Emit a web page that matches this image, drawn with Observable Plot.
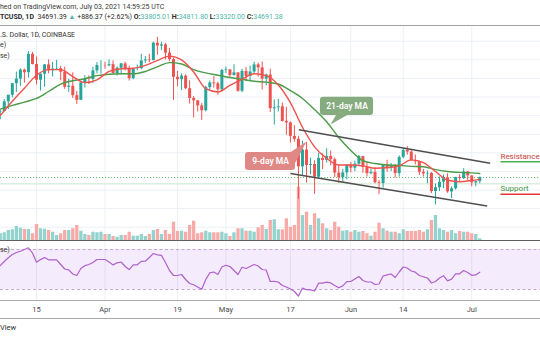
<!DOCTYPE html>
<html>
<head>
<meta charset="utf-8">
<script src="https://cdn.jsdelivr.net/npm/d3@7"></script>
<script src="https://cdn.jsdelivr.net/npm/@observablehq/plot@0.6"></script>
<style>
  html, body { margin: 0; padding: 0; background: #fff; }
  #chart { position: relative; width: 540px; height: 340px; overflow: hidden; background: #fff; font-family: Roboto, sans-serif; }
  .txt { position: absolute; left: 0; white-space: nowrap; font-family: Roboto, sans-serif; line-height: 1; }
  .sep { position: absolute; left: 0; width: 540px; height: 0; }
</style>
</head>
<body>
<div id="chart"></div>
<script>
// ---------- texts ----------
const publishedText = "hed on TradingView.com, July 03, 2021 14:59:25 UTC";
const symbolText = "TCUSD, 1D";
const lastText = "34691.39";
const changeText = "+886.37 (+2.62%)";
const ohlcKeys = ["O", "H", "L", "C"];
const ohlcTexts = ["33805.01", "34811.80", "33320.00", "34691.38"];
const legendTexts = [".S. Dollar, 1D, COINBASE", "e)", "se)"];
const rsiLegendText = "se)";
const footerText = "View";

// ---------- axis ----------
const tickDates = ["2021-03-15", "2021-04-01", "2021-04-19", "2021-05-01", "2021-05-17", "2021-06-01", "2021-06-14", "2021-07-01"];
const tickLabels = ["15", "Apr", "19", "May", "17", "Jun", "14", "Jul"];
const priceGrid = [24000, 28000, 32000, 36000, 40000, 44000, 48000, 52000, 56000, 60000, 64000];

// ---------- daily candles, 2021-03-06 .. 2021-07-03 ----------
const opens = [
  48760, 48880, 50970, 52390, 54880, 55860, 57790, 57230, 61190, 59000,
  55620, 56920, 58920, 57640, 58030, 58100, 57350, 54100, 54340, 52300,
  51300, 55040, 55860, 55780, 57620, 58790, 58800, 58740, 58970, 57060,
  58200, 59130, 58020, 55950, 58080, 58100, 59770, 59980, 59840, 63580,
  62970, 63230, 61450, 60060, 56250, 55730, 56500, 53800, 51700, 51190,
  50100, 49060, 54030, 55040, 54850, 53560, 57720, 57830, 56630, 57200,
  53240, 57510, 56430, 57380, 58920, 58280, 55860, 56750, 49500, 49700,
  49900, 46760, 46450, 43540, 42910, 37000, 40600, 37300, 37500, 34770,
  38800, 38350, 39240, 38530, 35660, 34650, 35680, 37330, 36700, 37560,
  39190, 36850, 35520, 35800, 33560, 33400, 37390, 36690, 37340, 35550,
  39020, 40530, 40160, 38340, 38090, 35820, 35480, 35600, 31680, 32500,
  33690, 34660, 31590, 32270, 34700, 34490, 35910, 35040, 33540, 33805
];
const highs = [
  49200, 51450, 52400, 54900, 57380, 58100, 58000, 61780, 61600, 60600,
  56950, 58980, 60000, 59450, 59900, 58600, 58400, 55850, 57200, 53200,
  55100, 56600, 56550, 58400, 59400, 59800, 59500, 60000, 59800, 58500,
  59250, 59500, 58650, 58150, 58900, 61200, 60700, 61200, 63800, 64850,
  63800, 63550, 62500, 60400, 57500, 57000, 56800, 55500, 52100, 51200,
  50600, 54350, 55450, 56400, 55200, 57950, 58450, 57950, 58950, 57200,
  57950, 58350, 58650, 59500, 59300, 59550, 56900, 58000, 51400, 51500,
  50700, 49800, 46650, 45850, 43550, 42500, 42200, 38850, 38300, 39900,
  39800, 40850, 40400, 38900, 37300, 36450, 37500, 37900, 38250, 39450,
  39250, 37900, 36450, 36800, 34050, 37500, 38400, 37700, 37450, 39350,
  41000, 41350, 40500, 39550, 38200, 36450, 36100, 35750, 33300, 34800,
  35250, 35500, 32700, 34750, 35300, 36600, 36000, 35050, 33950, 34812
];
const lows = [
  47100, 48800, 49300, 51850, 53000, 54300, 55000, 56100, 58900, 54600,
  53300, 54100, 57000, 56300, 57850, 55500, 53650, 53000, 51700, 50400,
  51300, 53950, 54700, 54900, 57000, 56900, 57950, 58500, 56900, 56500,
  56800, 57600, 55450, 55750, 57650, 57900, 59200, 59400, 59800, 61000,
  62000, 60000, 59600, 51300, 54200, 53400, 53600, 50500, 47500, 48800,
  47000, 48800, 53250, 53900, 52400, 53100, 57050, 56050, 56500, 53050,
  52950, 55300, 55300, 56950, 56300, 53500, 54400, 48700, 46000, 48800,
  46650, 43800, 42100, 42300, 30000, 35000, 33500, 35300, 31100, 34400,
  36400, 37800, 37200, 34700, 33400, 33500, 34200, 35700, 35950, 37200,
  35600, 34800, 35300, 33350, 31000, 32400, 35800, 35950, 34600, 34800,
  38750, 39500, 38150, 37400, 35150, 34800, 33350, 31250, 28800, 31700,
  32300, 31300, 30150, 32000, 33900, 34250, 34000, 32700, 32700, 33320
];
const closes = [
  48880, 50970, 52390, 54880, 55860, 57790, 57230, 61190, 59000, 55620,
  56920, 58920, 57640, 58030, 58100, 57350, 54100, 54340, 52300, 51300,
  55040, 55860, 55780, 57620, 58790, 58800, 58740, 58970, 57060, 58200,
  59130, 58020, 55950, 58080, 58100, 59770, 59980, 59840, 63580, 62970,
  63230, 61450, 60060, 56250, 55730, 56500, 53800, 51700, 51190, 50100,
  49060, 54030, 55040, 54850, 53560, 57720, 57830, 56630, 57200, 53240,
  57510, 56430, 57380, 58920, 58280, 55860, 56750, 49500, 49700, 49900,
  46760, 46450, 43540, 42910, 37000, 40600, 37300, 37500, 34770, 38800,
  38350, 39240, 38530, 35660, 34650, 35680, 37330, 36700, 37560, 39190,
  36850, 35520, 35800, 33560, 33400, 37390, 36690, 37340, 35550, 39020,
  40530, 40160, 38340, 38090, 35820, 35480, 35600, 31680, 32500, 33690,
  34660, 31590, 32270, 34700, 34490, 35910, 35040, 33540, 33805, 34691
];
// volume, thousand BTC
const volumes = [
  13.4, 15.4, 20, 21.4, 28, 24.6, 22, 22, 13.4, 32,
  23.4, 22.6, 20, 16.6, 10, 13.4, 20, 20, 23.4, 30,
  18.6, 12, 10, 16.6, 15.4, 16.6, 12, 12, 8, 6.6,
  10, 10, 16.6, 8.6, 8.6, 12, 8, 12, 20, 22,
  12, 20, 12, 36.6, 18, 18.6, 16.6, 30, 38.6, 13.4,
  15.4, 18.6, 15.4, 15.4, 15.4, 16.6, 13.4, 8, 15.4, 23.4,
  23.4, 18.6, 18.6, 16.6, 25.4, 30, 22, 40, 41.4, 21.4,
  21.4, 43.4, 26.6, 30, 106.6, 50, 56.6, 30, 53.4, 43.4,
  33.4, 23.4, 20, 36.6, 26.6, 18.6, 20, 16.6, 20, 16.6,
  18, 13.4, 8.6, 16.6, 34.6, 23.4, 18.6, 16.6, 16.6, 13.4,
  21.4, 18, 18, 18, 20, 16.6, 21.4, 40, 50, 23.4,
  20, 16.6, 20, 13.4, 18, 16.6, 16.6, 13.4, 12, 3.4
];
// RSI (14)
const rsiValues = [
  54, 58, 61.7, 65, 67, 68.3, 70, 71.7, 66.5, 57.3,
  59.9, 62, 59.7, 59.7, 59.7, 55, 50.5, 49.7, 45.5, 44,
  51, 53.8, 55, 57, 60, 60, 60, 57.5, 54.6, 56.7,
  57.5, 53, 49.9, 54.7, 54.7, 58.1, 58.3, 62, 66, 64.6,
  64.1, 57, 49, 44, 44, 45, 40, 36, 34.7, 32.5,
  30.2, 40, 46.6, 47.5, 45, 52.5, 54.2, 53, 49, 45,
  52.3, 51, 53, 55, 53.5, 50, 49.5, 38, 38.2, 37.5,
  34, 32.5, 30.5, 28, 23.5, 31.5, 29.8, 29.6, 28.5, 36.3,
  36.3, 37.3, 36.6, 34, 31.7, 33.6, 37.8, 38, 40.5, 43,
  39, 37.5, 37.5, 35, 35.5, 43.5, 44.7, 45.5, 42, 47.5,
  52.5, 51.5, 48.5, 47.3, 44, 42.7, 41.5, 36.5, 38, 41.5,
  43.8, 38.6, 40.4, 45.7, 45.7, 49, 47, 44.2, 44.6, 47.3
];
const rsiBand = [30, 70];

// ---------- moving averages ----------
const maDates = [
  "2021-03-06", "2021-03-09", "2021-03-12", "2021-03-15", "2021-03-18", "2021-03-21", "2021-03-24", "2021-03-27", "2021-03-30", "2021-04-02",
  "2021-04-05", "2021-04-08", "2021-04-11", "2021-04-14", "2021-04-17", "2021-04-20", "2021-04-23", "2021-04-26", "2021-04-29", "2021-05-02",
  "2021-05-05", "2021-05-08", "2021-05-11", "2021-05-14", "2021-05-17", "2021-05-20", "2021-05-23", "2021-05-26", "2021-05-29", "2021-06-01",
  "2021-06-04", "2021-06-07", "2021-06-10", "2021-06-13", "2021-06-16", "2021-06-19", "2021-06-22", "2021-06-25", "2021-06-28", "2021-07-01",
  "2021-07-03"
];
const ma9 = [
  48000, 51100, 53900, 56700, 57900, 57900, 56400, 55100, 55700, 57500,
  58100, 58200, 58800, 59900, 60800, 60000, 57400, 53800, 53100, 54500,
  55800, 57000, 56600, 54600, 50800, 45500, 41300, 38800, 37400, 37400,
  37200, 36700, 36800, 37200, 38500, 37900, 36000, 34100, 33800, 34050,
  34300
];
const ma21 = [
  49400, 50200, 50900, 51700, 53200, 54800, 55500, 55950, 56600, 56900,
  57000, 57000, 57500, 58500, 59400, 59100, 57900, 57200, 56700, 56200,
  55800, 55400, 55200, 54800, 53400, 51700, 49300, 46700, 43300, 40500,
  38300, 37700, 37400, 37300, 37100, 37000, 36400, 36000, 35800, 35700,
  35550
];

// ---------- drawings ----------
const lastPrice = 34691.38;
const levelPrice = 33330;
const channelLines = [
  {x1: "2021-05-19T02:00Z", y1: 44950, x2: "2021-07-05T14:00Z", y2: 37770},
  {x1: "2021-05-17T00:45Z", y1: 35550, x2: "2021-07-04T20:00Z", y2: 28560}
];
const callouts = [
  {label: "21-day MA", x1: "2021-05-24T11:00Z", x2: "2021-06-06T15:00Z", y1: 48020, y2: 51960,
   tx: "2021-05-31T01:00Z", ty: 49990, color: "#86ab7f",
   tail: [["2021-05-28T10:30Z", 48300], ["2021-05-26T23:00Z", 46090], ["2021-05-31T10:00Z", 48300]]},
  {label: "9-day MA", x1: "2021-05-05T20:40Z", x2: "2021-05-18T06:30Z", y1: 36200, y2: 40070,
   tx: "2021-05-12T01:40Z", ty: 38130, color: "#e08886",
   tail: [["2021-05-16T12:40Z", 39850], ["2021-05-21T00:00Z", 42430], ["2021-05-18T06:30Z", 37920]]}
];
const srLabels = [
  {label: "Resistance", x1: "2021-07-08T03:00Z", x2: "2021-07-18T01:30Z", textPrice: 39210, linePrice: 38070, textColor: "#c8433d", lineColor: "#4caf50"},
  {label: "Support", x1: "2021-07-08T03:00Z", x2: "2021-07-18T01:30Z", textPrice: 32430, linePrice: 31100, textColor: "#3f9142", lineColor: "#e53935"}
];

// ---------- build ----------
const chart = document.getElementById("chart");
const C = {up: "#26a69a", down: "#ef5350", upVol: "#93d3cd", downVol: "#f8aaa8", grid: "#ecf0f5",
           ma9: "#f0524d", ma21: "#4b9b47", channel: "#4f4f4f", rsi: "#b061cb"};
const xDomain = [new Date("2021-03-06T01:36Z"), new Date("2021-07-18T01:30Z")];
const yPrice = [21150, 67390];
const yVolume = [0, 430];
const yRsi = [19, 79];

const dates = d3.utcDay.range(new Date("2021-03-06T00:00Z"), new Date("2021-07-04T00:00Z"));
const rows = dates.map((date, i) => ({date, open: opens[i], high: highs[i], low: lows[i], close: closes[i],
  volume: volumes[i], rsi: rsiValues[i], up: closes[i] >= opens[i]}));
const maRows = maDates.map((d, i) => ({date: new Date(d), ma9: ma9[i], ma21: ma21[i]}));
const ticks = tickDates.map((d, i) => ({date: new Date(d), label: tickLabels[i]}));
const D = s => new Date(s);

function pane(top, height, yDomain, marks) {
  const opts = {width: 540, height, marginTop: 0, marginRight: 0, marginBottom: 0, marginLeft: 0,
    x: {type: "utc", domain: xDomain, axis: null}, marks};
  if (yDomain) opts.y = {domain: yDomain, axis: null};
  const svg = Plot.plot(opts);
  svg.style.position = "absolute";
  svg.style.top = top + "px";
  svg.style.left = "0px";
  svg.style.background = "transparent";
  svg.style.overflow = "visible";
  svg.style.maxWidth = "none";
  svg.style.fontFamily = "Roboto, sans-serif";
  chart.appendChild(svg);
}

// price pane grid
pane(25, 215, yPrice, [
  Plot.ruleY(priceGrid, {stroke: C.grid}),
  Plot.ruleX(ticks, {x: "date", stroke: C.grid})
]);
// volume overlay
pane(25, 215, yVolume, [
  Plot.ruleX(rows, {filter: d => d.up, x: "date", y1: 0, y2: "volume", stroke: C.upVol, strokeWidth: 3.3}),
  Plot.ruleX(rows, {filter: d => !d.up, x: "date", y1: 0, y2: "volume", stroke: C.downVol, strokeWidth: 3.3})
]);
// price marks
const priceMarks = [
  Plot.ruleY([levelPrice], {stroke: "#cde6cd", strokeWidth: 1}),
  Plot.ruleY([lastPrice], {stroke: "#66bb6a", strokeDasharray: "1.2,1.8", strokeWidth: 1}),
  Plot.ruleX(rows, {filter: d => d.up, x: "date", y1: "low", y2: "high", stroke: C.up, strokeWidth: 1}),
  Plot.ruleX(rows, {filter: d => !d.up, x: "date", y1: "low", y2: "high", stroke: C.down, strokeWidth: 1}),
  Plot.ruleX(rows, {filter: d => d.up, x: "date", y1: "open", y2: "close", stroke: C.up, strokeWidth: 3}),
  Plot.ruleX(rows, {filter: d => !d.up, x: "date", y1: "open", y2: "close", stroke: C.down, strokeWidth: 3}),
  Plot.line(maRows, {x: "date", y: "ma21", stroke: C.ma21, strokeWidth: 1.4, curve: "monotone-x"}),
  Plot.line(maRows, {x: "date", y: "ma9", stroke: C.ma9, strokeWidth: 1.4, curve: "monotone-x"}),
  Plot.link(channelLines, {x1: d => D(d.x1), y1: "y1", x2: d => D(d.x2), y2: "y2", stroke: C.channel, strokeWidth: 1.5})
];
callouts.forEach(c => {
  priceMarks.push(Plot.line(c.tail, {x: d => D(d[0]), y: d => d[1], fill: c.color, stroke: "none"}));
  priceMarks.push(Plot.rect([c], {x1: d => D(d.x1), x2: d => D(d.x2), y1: "y1", y2: "y2", fill: c.color, rx: 3}));
  priceMarks.push(Plot.text([c], {x: d => D(d.tx), y: "ty", text: "label", fill: "white", fontSize: 8.5, fontWeight: 600}));
});
srLabels.forEach(s => {
  priceMarks.push(Plot.link([s], {x1: d => D(d.x1), x2: d => D(d.x2), y1: "linePrice", y2: "linePrice", stroke: s.lineColor, strokeWidth: 1.5}));
  priceMarks.push(Plot.text([s], {x: d => D(d.x1), y: "textPrice", text: "label", fill: s.textColor, textAnchor: "start", fontSize: 8}));
});
pane(25, 215, yPrice, priceMarks);

// RSI pane
pane(240, 60, yRsi, [
  Plot.ruleX(ticks, {x: "date", stroke: C.grid}),
  Plot.rect([rsiBand], {x1: () => xDomain[0], x2: () => xDomain[1], y1: d => d[0], y2: d => d[1], fill: "#a85ce8", fillOpacity: 0.12}),
  Plot.ruleY(rsiBand, {stroke: "#c4a8d6", strokeDasharray: "3,2.5"}),
  Plot.line(rows, {x: "date", y: "rsi", stroke: C.rsi, strokeWidth: 1.2})
]);

// time axis
pane(300, 18, null, [
  Plot.text(ticks, {x: "date", text: "label", frameAnchor: "middle", fontSize: 7.5, fill: "#4a4a4a"})
]);

// separators
function sep(top, color) {
  const d = document.createElement("div");
  d.className = "sep";
  d.style.top = top + "px";
  d.style.borderTop = "1px solid " + color;
  chart.appendChild(d);
}
sep(25, "#a3a3a3");
sep(240, "#606060");
sep(300, "#a8a8a8");
sep(318, "#a8a8a8");

// html texts
function txt(html, top, size, color, weight) {
  const d = document.createElement("div");
  d.className = "txt";
  d.style.top = top + "px";
  d.style.fontSize = size + "px";
  d.style.color = color;
  if (weight) d.style.fontWeight = weight;
  d.innerHTML = html;
  chart.appendChild(d);
}
txt(publishedText, 3.5, 7, "#3a3a3a");
const teal = "#4db6a6";
txt(`<b>${symbolText}</b>&nbsp; ${lastText} <span style="color:${teal}">▲</span> ${changeText} ` +
    ohlcKeys.map((k, i) => `<b>${k}:</b><span style="color:${teal}">${ohlcTexts[i]}</span>`).join(" "),
    13.5, 7, "#2a2a2a");
legendTexts.forEach((t, i) => txt(t, [32, 42, 52.5][i], 7, "#333"));
txt(rsiLegendText, 247, 7, "#333");
txt(footerText, 324, 7.5, "#333");
</script>
</body>
</html>
